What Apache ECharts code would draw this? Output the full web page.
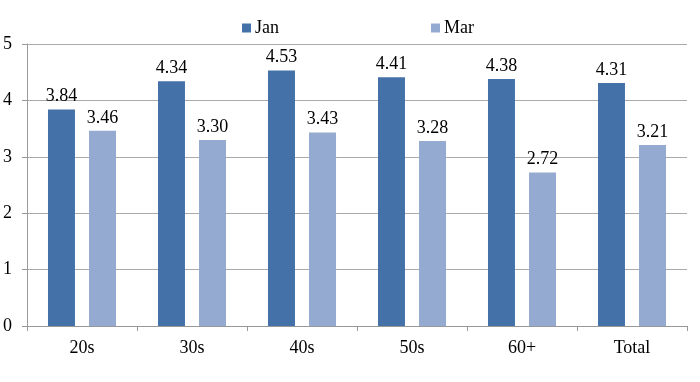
<!DOCTYPE html>
<html><head><meta charset="utf-8">
<script src="https://cdn.jsdelivr.net/npm/echarts@6/dist/echarts.min.js"></script>
<style>html,body{margin:0;padding:0;background:#fff}#c{width:700px;height:382px}</style>
</head><body><div id="c"></div>
<script>
const categories = ['20s','30s','40s','50s','60+','Total'];
const janValues = [3.84, 4.34, 4.53, 4.41, 4.38, 4.31];
const marValues = [3.46, 3.30, 3.43, 3.28, 2.72, 3.21];
const seriesNames = ['Jan','Mar'];
const font = '"Liberation Serif", "Times New Roman", serif';
const chart = echarts.init(document.getElementById('c'));
const lbl = {show:true, position:'top', distance:4, color:'#000', fontFamily:font, fontSize:18, formatter:p=>p.value.toFixed(2)};
chart.setOption({
  animation:false,
  textStyle:{fontFamily:font},
  legend:{left:237, top:14, itemWidth:9, itemHeight:9, itemGap:152, icon:'rect',
    textStyle:{fontFamily:font, fontSize:18, color:'#000', padding:[0,0,0,-1]}, data:seriesNames},
  grid:{left:26, right:13, top:44, bottom:56, containLabel:false},
  xAxis:{type:'category', data:categories,
    axisLine:{lineStyle:{color:'#999'}}, axisTick:{show:true, length:5, lineStyle:{color:'#999'}},
    axisLabel:{color:'#000', fontFamily:font, fontSize:18, margin:13}},
  yAxis:{type:'value', min:0, max:5, interval:1,
    axisLine:{show:true, lineStyle:{color:'#999'}}, axisTick:{show:true, length:5, lineStyle:{color:'#999'}},
    splitLine:{lineStyle:{color:'#aaa'}},
    axisLabel:{color:'#000', fontFamily:font, fontSize:18, margin:15}},
  series:[
    {name:seriesNames[0], type:'bar', data:janValues, itemStyle:{color:'#4472a8'}, barWidth:27, barGap:'52%', label:lbl},
    {name:seriesNames[1], type:'bar', data:marValues, itemStyle:{color:'#95aad0'}, barWidth:27, label:lbl}
  ]
});
</script></body></html>
